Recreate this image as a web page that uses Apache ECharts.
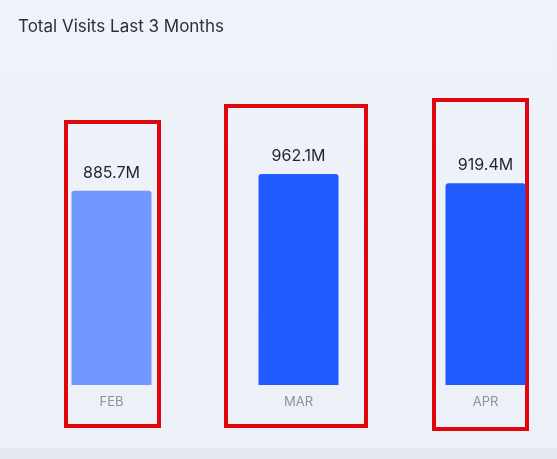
<!DOCTYPE html>
<html>
<head>
<meta charset="utf-8">
<script src="https://cdn.jsdelivr.net/npm/echarts@6/dist/echarts.min.js"></script>
<style>
html,body{margin:0;padding:0;background:#edf1f8;}
#c{width:557px;height:459px;}
</style>
</head>
<body>
<div id="c"></div>
<script>
var categories = ['FEB', 'MAR', 'APR'];
var visits = [885.7, 962.1, 919.4];
var barColors = ['#7098ff', '#1f5bff', '#1f5bff'];

var chart = echarts.init(document.getElementById('c'));
chart.setOption({
  backgroundColor: {
    type: 'linear', x: 0, y: 0, x2: 0, y2: 1,
    colorStops: [
      {offset: 0, color: '#eef2f9'},
      {offset: 0.974, color: '#edf1f7'},
      {offset: 0.977, color: '#e4e9f1'},
      {offset: 1, color: '#e4e9f1'}
    ]
  },
  title: {
    text: 'Total Visits Last 3 Months',
    left: 18, top: 18, padding: 0,
    textStyle: {fontFamily: 'Inter', fontSize: 17, fontWeight: 'normal', color: '#2a2f3a'}
  },
  grid: {left: 18, top: 56, width: 561, height: 329, outerBoundsMode: 'none', containLabel: false},
  xAxis: {
    type: 'category',
    data: categories,
    axisLine: {show: false},
    axisTick: {show: false},
    axisLabel: {color: '#8d929c', fontFamily: 'Inter', fontSize: 13, margin: 11}
  },
  yAxis: {
    type: 'value', min: 0, max: 1500,
    show: false, splitLine: {show: false}
  },
  series: [{
    type: 'bar',
    data: visits.map(function (v, i) { return {value: v, itemStyle: {color: barColors[i]}}; }),
    barWidth: 80,
    itemStyle: {borderRadius: [3, 3, 0, 0]},
    label: {
      show: true, position: 'top', distance: 10,
      formatter: function (p) { return p.value.toFixed(1) + 'M'; },
      fontFamily: 'Inter', fontSize: 16, color: '#1f232b'
    }
  }],
  graphic: [
    {type: 'rect', shape: {x: 66, y: 122, width: 93, height: 304}, style: {fill: 'none', stroke: '#e0060b', lineWidth: 4}},
    {type: 'rect', shape: {x: 226, y: 106, width: 140, height: 320}, style: {fill: 'none', stroke: '#e0060b', lineWidth: 4}},
    {type: 'rect', shape: {x: 434, y: 100, width: 93, height: 329}, style: {fill: 'none', stroke: '#e0060b', lineWidth: 4}}
  ]
});
</script>
</body>
</html>
